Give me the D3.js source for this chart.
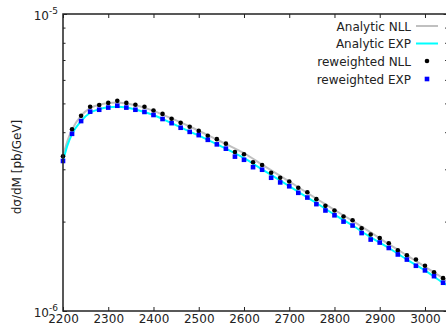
<!doctype html>
<html>
<head>
<meta charset="utf-8">
<script src="https://cdn.jsdelivr.net/npm/d3@7"></script>
<style>
  body { margin: 0; background: #fff; }
  text { font-family: "DejaVu Sans", sans-serif; }
</style>
</head>
<body>
<svg width="446" height="325"></svg>
<script>
// masses of the reweighted points (GeV)
var massPoints = [2200, 2220, 2240, 2260, 2280, 2300, 2320, 2340, 2360, 2380,
                  2400, 2420, 2440, 2460, 2480, 2500, 2520, 2540, 2560, 2580,
                  2600, 2620, 2640, 2660, 2680, 2700, 2720, 2740, 2760, 2780,
                  2800, 2820, 2840, 2860, 2880, 2900, 2920, 2940, 2960, 2980,
                  3000, 3020, 3040];

// reweighted values, units of 1e-6 pb/GeV
var reweightedNLL = [3.32, 4.09, 4.54, 4.87, 4.94, 5.02, 5.10, 5.02, 4.95, 4.87,
                     4.73, 4.61, 4.44, 4.30, 4.17, 4.04, 3.89, 3.79, 3.66, 3.43,
                     3.37, 3.17, 3.10, 2.92, 2.81, 2.73, 2.60, 2.51, 2.38, 2.26,
                     2.18, 2.08, 2.02, 1.90, 1.81, 1.76, 1.69, 1.60, 1.54, 1.49,
                     1.42, 1.35, 1.29];
var reweightedEXP = [3.20, 3.95, 4.36, 4.69, 4.76, 4.84, 4.91, 4.84, 4.76, 4.68,
                     4.57, 4.43, 4.29, 4.14, 4.01, 3.91, 3.77, 3.64, 3.52, 3.31,
                     3.23, 3.05, 2.99, 2.81, 2.71, 2.63, 2.50, 2.41, 2.29, 2.18,
                     2.10, 2.00, 1.94, 1.83, 1.74, 1.70, 1.63, 1.55, 1.49, 1.42,
                     1.37, 1.31, 1.245];

// analytic curves
var analyticMass = [2200, 2210, 2220, 2240, 2260, 2280, 2300, 2320, 2340, 2360,
                    2380, 2400, 2440, 2480, 2520, 2560, 2600, 2640, 2680, 2720,
                    2760, 2800, 2840, 2880, 2920, 2960, 3000, 3040, 3050];
var analyticNLL = [3.32, 3.75, 4.08, 4.55, 4.82, 4.95, 5.02, 5.04, 5.00, 4.93,
                   4.84, 4.72, 4.45, 4.18, 3.91, 3.65, 3.40, 3.11, 2.85, 2.61,
                   2.39, 2.19, 2.01, 1.84, 1.68, 1.54, 1.41, 1.29, 1.26];
var analyticEXP = [3.20, 3.62, 3.94, 4.36, 4.65, 4.78, 4.85, 4.87, 4.84, 4.77,
                   4.68, 4.57, 4.29, 4.02, 3.77, 3.52, 3.27, 3.00, 2.75, 2.52,
                   2.31, 2.11, 1.94, 1.77, 1.63, 1.49, 1.37, 1.245, 1.22];

var xTicks = [2200, 2300, 2400, 2500, 2600, 2700, 2800, 2900, 3000];
var yMajor = [1e-6, 1e-5];
var yMinor = [2e-6, 3e-6, 4e-6, 5e-6, 6e-6, 7e-6, 8e-6, 9e-6];
var yTickLabels = [["10", "-6"], ["10", "-5"]];

var plotLeft = 63, plotRight = 447.6, plotTop = 14, plotBottom = 311;

var svg = d3.select("svg");

var x = d3.scaleLinear().domain([2200, 3050]).range([plotLeft, plotRight]);
var y = d3.scaleLog().domain([1e-6, 1e-5]).range([plotBottom, plotTop]);

function v(d) { return d * 1e-6; }

// analytic lines
var line = d3.line()
    .x(function(d) { return x(d[0]); })
    .y(function(d) { return y(v(d[1])); })
    .curve(d3.curveMonotoneX);

svg.append("path")
    .attr("d", line(d3.zip(analyticMass, analyticNLL)))
    .attr("fill", "none")
    .attr("stroke", "#c0c0c0")
    .attr("stroke-width", 2);

svg.append("path")
    .attr("d", line(d3.zip(analyticMass, analyticEXP)))
    .attr("fill", "none")
    .attr("stroke", "#00ffff")
    .attr("stroke-width", 2);

// reweighted points
svg.append("g").selectAll("circle")
    .data(d3.zip(massPoints, reweightedNLL))
    .enter()
        .append("circle")
        .attr("cx", function(d) { return x(d[0]); })
        .attr("cy", function(d) { return y(v(d[1])); })
        .attr("r", 2.3)
        .attr("fill", "black");

svg.append("g").selectAll("rect")
    .data(d3.zip(massPoints, reweightedEXP))
    .enter()
        .append("rect")
        .attr("x", function(d) { return x(d[0]) - 2.3; })
        .attr("y", function(d) { return y(v(d[1])) - 2.3; })
        .attr("width", 4.6)
        .attr("height", 4.6)
        .attr("fill", "#0000ff");

// frame
svg.append("rect")
    .attr("x", plotLeft).attr("y", plotTop)
    .attr("width", plotRight - plotLeft).attr("height", plotBottom - plotTop)
    .attr("fill", "none").attr("stroke", "#222").attr("stroke-width", 1.5);

// x axis bottom + top mirror ticks
var xAxis = svg.append("g")
    .attr("transform", "translate(0," + plotBottom + ")")
    .call(d3.axisBottom(x).tickValues(xTicks).tickSizeInner(-4).tickSizeOuter(0)
        .tickPadding(3).tickFormat(d3.format("d")));
xAxis.select(".domain").remove();
xAxis.selectAll("text").attr("font-size", 12).attr("fill", "#222")
    .attr("font-family", "DejaVu Sans");
xAxis.selectAll("line").attr("stroke", "#222");

var xTop = svg.append("g")
    .attr("transform", "translate(0," + plotTop + ")")
    .call(d3.axisTop(x).tickValues(xTicks).tickSizeInner(-4).tickSizeOuter(0).tickFormat(""));
xTop.select(".domain").remove();
xTop.selectAll("line").attr("stroke", "#222");

// y axis left and right ticks
function yTicksAt(xpos, dir, values, len) {
    var g = svg.append("g")
        .attr("transform", "translate(" + xpos + ",0)")
        .call((dir < 0 ? d3.axisLeft(y) : d3.axisRight(y))
            .tickValues(values).tickSizeInner(-len).tickSizeOuter(0).tickFormat(""));
    g.select(".domain").remove();
    g.selectAll("line").attr("stroke", "#222");
    return g;
}
yTicksAt(plotLeft, -1, yMajor, 4);
yTicksAt(plotLeft, -1, yMinor, 2.5);
yTicksAt(plotRight, 1, yMajor, 4);
yTicksAt(plotRight, 1, yMinor, 2.5);

var yLab = svg.append("g").selectAll("text")
    .data(yMajor)
    .enter()
        .append("text")
        .attr("x", 58)
        .attr("y", function(d) { return y(d) + 6; })
        .attr("text-anchor", "end")
        .attr("font-size", 12)
        .attr("fill", "#222");
yLab.append("tspan").text(function(d, i) { return yTickLabels[i][0]; });
yLab.append("tspan").attr("dy", -6).attr("font-size", 9)
    .text(function(d, i) { return yTickLabels[i][1]; });

// y axis title
svg.append("text")
    .attr("transform", "translate(21,167) rotate(-90)")
    .attr("text-anchor", "middle")
    .attr("font-size", 12)
    .attr("fill", "#222")
    .text("dσ/dM [pb/GeV]");

// legend
var legendLabels = ["Analytic NLL", "Analytic EXP", "reweighted NLL", "reweighted EXP"];
var legendY = [26, 43.5, 61, 79];
var legend = svg.append("g");
legend.selectAll("text")
    .data(legendLabels)
    .enter()
        .append("text")
        .attr("x", 411)
        .attr("y", function(d, i) { return legendY[i] + 4.5; })
        .attr("text-anchor", "end")
        .attr("font-size", 12)
        .attr("fill", "#222")
        .text(function(d) { return d; });

legend.append("line")
    .attr("x1", 416).attr("x2", 438).attr("y1", legendY[0]).attr("y2", legendY[0])
    .attr("stroke", "#c0c0c0").attr("stroke-width", 2);
legend.append("line")
    .attr("x1", 416).attr("x2", 438).attr("y1", legendY[1]).attr("y2", legendY[1])
    .attr("stroke", "#00ffff").attr("stroke-width", 2);
legend.append("circle")
    .attr("cx", 427).attr("cy", legendY[2]).attr("r", 2.3).attr("fill", "black");
legend.append("rect")
    .attr("x", 424.7).attr("y", legendY[3] - 2.3).attr("width", 4.6).attr("height", 4.6)
    .attr("fill", "#0000ff");
</script>
</body>
</html>
